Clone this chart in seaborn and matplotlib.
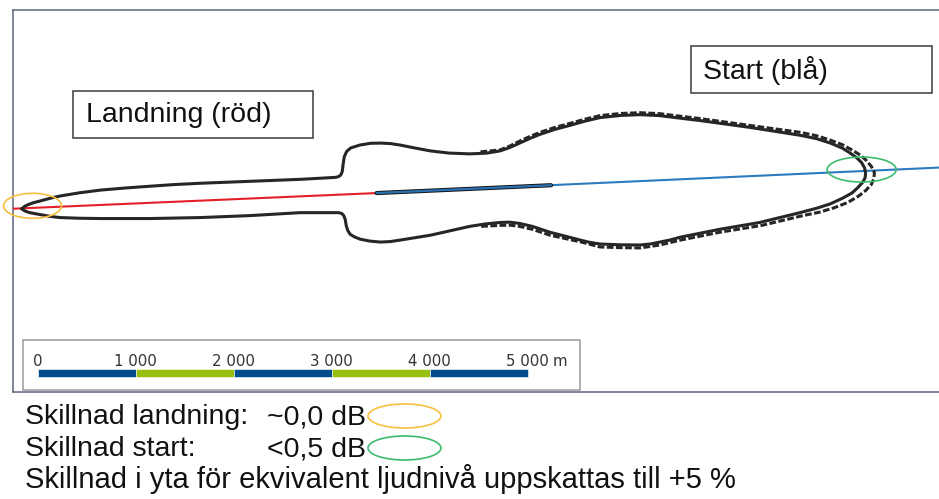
import matplotlib
matplotlib.use("Agg")
import matplotlib.pyplot as plt
import seaborn as sns
from matplotlib.patches import Ellipse, Rectangle

# ---------------- data (metres) ----------------
# Solid noise contour (landing + start), closed, traced clockwise from the west tip
contour_x = [90, 120, 150, 210, 280, 380, 480, 680, 890, 1150, 1400, 1650, 1910, 2420, 2930,
             3290, 3320, 3345, 3360, 3368, 3380, 3405, 3445, 3540, 3650, 3750, 3850, 3950,
             4100, 4260, 4450, 4660, 4830, 4970, 5070, 5170, 5280, 5380, 5530, 5680, 5840,
             5990, 6200, 6400, 6600, 6800, 7010, 7520, 8030, 8200, 8340, 8460, 8540, 8610,
             8660, 8690, 8700, 8695, 8670, 8620, 8560, 8460, 8340, 8200, 8030, 7620, 7210,
             6810, 6700, 6600, 6500, 6400, 6200, 5990, 5880, 5790, 5480, 5300, 5170, 5070,
             4970, 4820, 4660, 4260, 3950, 3850, 3750, 3640, 3540, 3480, 3440, 3415, 3400,
             3390, 3375, 3355, 3320, 3200, 2930, 2420, 1910, 1400, 890, 680, 480, 380, 280,
             170, 120, 90]
contour_y = [1870, 1895, 1910, 1932, 1950, 1977, 2000, 2033, 2060, 2082, 2100, 2117, 2130, 2150, 2170,
             2190, 2197, 2215, 2250, 2320, 2400, 2455, 2490, 2520, 2538, 2540, 2535, 2520,
             2490, 2460, 2438, 2430, 2437, 2460, 2495, 2540, 2590, 2630, 2680, 2720, 2765,
             2800, 2822, 2830, 2820, 2795, 2770, 2700, 2620, 2585, 2540, 2490, 2440, 2390,
             2340, 2285, 2230, 2185, 2140, 2085, 2030, 1975, 1920, 1875, 1830, 1730, 1660,
             1580, 1550, 1530, 1510, 1500, 1502, 1510, 1528, 1550, 1630, 1690, 1720, 1733,
             1730, 1715, 1690, 1600, 1550, 1535, 1530, 1540, 1560, 1585, 1610, 1650, 1700,
             1760, 1800, 1822, 1830, 1830, 1830, 1800, 1780, 1770, 1770, 1773, 1780, 1792, 1810,
             1830, 1848, 1870]

# Dashed contour (alternative start scenario), east lobe
alt_x = [4770, 4970, 5070, 5170, 5280, 5380, 5530, 5680, 5840, 5990, 6200, 6400, 6600, 6800,
         7010, 7520, 8030, 8200, 8340, 8460, 8560, 8650, 8710, 8760, 8790, 8785, 8760, 8700,
         8630, 8520, 8380, 8230, 8060, 7640, 7210, 6810, 6600, 6400, 6200, 5990, 5800, 5480,
         5300, 5170, 5070, 4970, 4770]
alt_y = [2450, 2470, 2510, 2560, 2610, 2650, 2700, 2740, 2785, 2820, 2842, 2850, 2840, 2815,
         2790, 2720, 2650, 2615, 2570, 2525, 2470, 2415, 2360, 2300, 2240, 2180, 2120, 2055,
         2000, 1935, 1880, 1835, 1800, 1700, 1630, 1550, 1500, 1470, 1473, 1480, 1530, 1600,
         1660, 1690, 1703, 1700, 1690]

landing_track_x = [0, 3710]
landing_track_y = [1870, 2030]
start_track_x = [3710, 9450]
start_track_y = [2030, 2290]
runway_x = [3710, 5490]
runway_y = [2030, 2110]

scale_ticks = [0, 1000, 2000, 3000, 4000, 5000]
scale_labels = ["0", "1 000", "2 000", "3 000", "4 000", "5 000"]
scale_unit = "m"

label_landing = "Landning (röd)"
label_start = "Start (blå)"
notes = [("Skillnad landning:", "~0,0 dB"),
         ("Skillnad start:", "<0,5 dB")]
note_area = "Skillnad i yta för ekvivalent ljudnivå uppskattas till +5 %"

# ---------------- styling ----------------
sns.set_style("white")
plt.rcParams['font.family'] = ['Liberation Sans', 'DejaVu Sans']

W, H = 939, 499
fig = plt.figure(figsize=(W / 100, H / 100), dpi=100)

ax = fig.add_axes([13 / W, 107 / H, 926 / W, 382 / H])
ax.set_xlim(0, 9449)
ax.set_ylim(0, 3898)
ax.set_xticks([])
ax.set_yticks([])
for s in ['left', 'top', 'bottom']:
    ax.spines[s].set_color('#5c6680')
    ax.spines[s].set_linewidth(1.1)
ax.spines['right'].set_visible(False)

# tracks
sns.lineplot(x=landing_track_x, y=landing_track_y, sort=False, estimator=None,
             color='#e3202a', lw=1.5, ax=ax, zorder=3)
sns.lineplot(x=start_track_x, y=start_track_y, sort=False, estimator=None,
             color='#2b7bbf', lw=1.5, ax=ax, zorder=3)
sns.lineplot(x=runway_x, y=runway_y, sort=False, estimator=None,
             color='#111111', lw=3.0, ax=ax, zorder=4)
sns.lineplot(x=runway_x, y=runway_y, sort=False, estimator=None,
             color='#2b6fae', lw=1.7, ax=ax, zorder=5)

# contours
sns.lineplot(x=contour_x, y=contour_y, sort=False, estimator=None,
             color='#262626', lw=2.2, ax=ax, zorder=6)
ax.lines[-1].set_solid_joinstyle('round')
sns.lineplot(x=alt_x, y=alt_y, sort=False, estimator=None,
             color='#262626', lw=2.2, ax=ax, zorder=6)
ax.lines[-1].set_dashes([2.2, 0.8])

# difference ellipses on the map
ax.add_patch(Ellipse((200, 1900), 592, 255, fill=False, edgecolor='#f5c040',
                     lw=1.2, clip_on=False, zorder=7))
ax.add_patch(Ellipse((8660, 2270), 704, 255, fill=False, edgecolor='#3dbb6e',
                     lw=1.2, clip_on=False, zorder=7))

# scale bar
sb_x0, sb_y0, sb_h = 252, 150, 82
ax.add_patch(Rectangle((99, 20), 5690, 511, facecolor='white', edgecolor='#9a9a9a',
                       lw=1.1, zorder=8))
seg_colors = ['#034d8d', '#98bf0f']
for i in range(len(scale_ticks) - 1):
    ax.add_patch(Rectangle((sb_x0 + scale_ticks[i], sb_y0),
                           scale_ticks[i + 1] - scale_ticks[i], sb_h,
                           facecolor=seg_colors[i % 2], edgecolor='white', lw=0.4, zorder=9))
for t, lab in zip(scale_ticks, scale_labels):
    ax.text(sb_x0 + t, 265, lab, ha='center', va='baseline', fontsize=10.8,
            family='DejaVu Sans', color='#333333', zorder=10)
ax.annotate(scale_unit, xy=(sb_x0 + scale_ticks[-1], 265), xytext=(18, 0),
            textcoords='offset points', ha='left', va='baseline', fontsize=10.8,
            family='DejaVu Sans', color='#333333', zorder=10,
            annotation_clip=False)

# overlay in pixel coordinates for labels and notes
ov = fig.add_axes([0, 0, 1, 1])
ov.set_xlim(0, W)
ov.set_ylim(H, 0)
ov.axis('off')
ov.patch.set_visible(False)

fs = 20.5
ov.add_patch(Rectangle((73, 91), 240, 47, fill=False, edgecolor='#3a3a3a', lw=1.1))
ov.text(86, 115, label_landing, ha='left', va='center', fontsize=fs, color='#111111')
ov.add_patch(Rectangle((691, 46), 241, 47, fill=False, edgecolor='#3a3a3a', lw=1.1))
ov.text(703, 70, label_start, ha='left', va='center', fontsize=fs, color='#111111')

base = [424, 456]
ell_colors = ['#f5c040', '#3dbb6e']
for (a, b), yb, c in zip(notes, base, ell_colors):
    ov.text(25, yb, a, ha='left', va='baseline', fontsize=fs, color='#111111')
    ov.text(267, yb, b, ha='left', va='baseline', fontsize=fs, color='#111111')
    ov.add_patch(Ellipse((404.5, yb - 8), 73, 24, fill=False, edgecolor=c, lw=1.2))
ov.text(25, 488, note_area, ha='left', va='baseline', fontsize=21, color='#111111')

fig.savefig("out.png", dpi=100)
